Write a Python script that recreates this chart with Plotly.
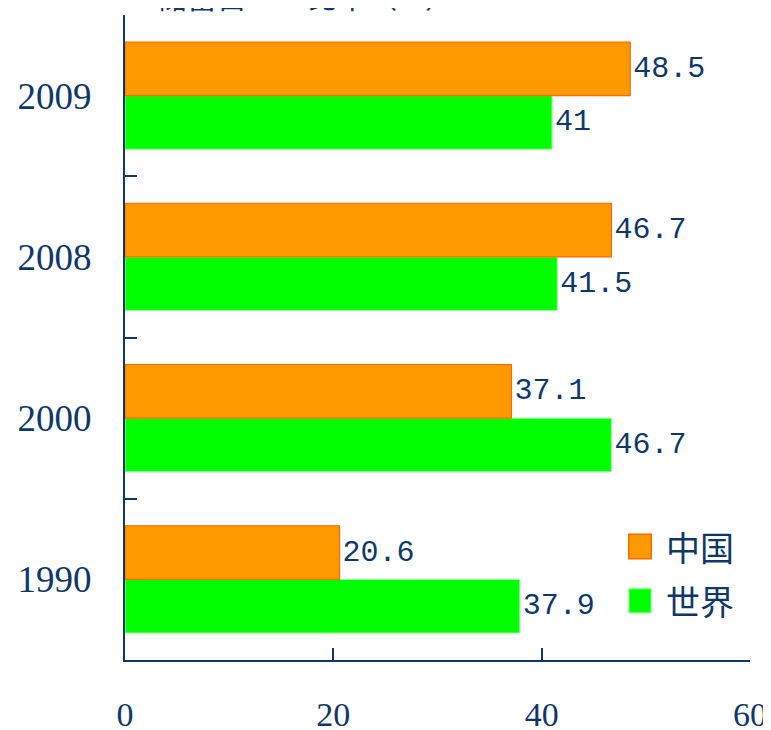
import plotly.graph_objects as go

# data
years = ["1990", "2000", "2008", "2009"]
china = [20.6, 37.1, 46.7, 48.5]
world = [37.9, 46.7, 41.5, 41.0]
x_ticks = [0, 20, 40, 60]

NAVY = "#0F3868"
ORANGE = "#FF9900"
ORANGE_EDGE = "#FF6A00"
GREEN = "#00FF00"

fig = go.Figure()

# world first so that China sits on top inside each group
fig.add_trace(go.Bar(
    y=years, x=world, name="世界", orientation="h",
    marker=dict(color=GREEN, line=dict(color="#9BFF9B", width=1)),
    texttemplate="%{x}", textposition="outside",
    textfont=dict(family="Liberation Mono", size=30, color=NAVY),
    cliponaxis=False, showlegend=False,
))
fig.add_trace(go.Bar(
    y=years, x=china, name="中国", orientation="h",
    marker=dict(color=ORANGE, line=dict(color=ORANGE_EDGE, width=1.2)),
    texttemplate="%{x}", textposition="outside",
    textfont=dict(family="Liberation Mono", size=30, color=NAVY),
    cliponaxis=False, showlegend=False,
))

# the page body adds an 8px margin, so the figure is 8px smaller than the window
fig.update_layout(
    width=763, height=722,
    paper_bgcolor="white", plot_bgcolor="white",
    margin=dict(l=117, r=21, t=7, b=70),
    barmode="group", bargap=0.335, bargroupgap=0,
    xaxis=dict(
        range=[0, 60], tickvals=x_ticks, showgrid=False, zeroline=False,
        showline=True, linecolor=NAVY, linewidth=2,
        ticks="inside", ticklen=12, tickcolor=NAVY, tickwidth=1.5,
        tickfont=dict(family="Liberation Serif", size=34, color=NAVY),
        ticklabelstandoff=23, ticklabeloverflow="allow", automargin=False,
    ),
    yaxis=dict(
        type="category", showgrid=False, zeroline=False,
        showline=True, linecolor=NAVY, linewidth=2,
        ticks="inside", tickson="boundaries", ticklen=12, tickcolor=NAVY, tickwidth=1.5,
        tickfont=dict(family="Liberation Serif", size=37, color=NAVY),
        ticklabelstandoff=24, automargin=False,
    ),
    font=dict(family="Noto Sans CJK SC", color=NAVY),
)

# chart title, mostly cut off by the top edge like the source image
fig.add_annotation(
    text="储蓄占GDP比率（%）", xref="paper", yref="paper",
    x=0.29, y=1.031, xanchor="center", yanchor="middle", showarrow=False,
    font=dict(family="Noto Sans CJK SC", size=30, color=NAVY),
)

# hand-drawn legend with large square swatches
legend_items = [("中国", ORANGE, ORANGE_EDGE, 0.176), ("世界", GREEN, "#9BFF9B", 0.092)]
for label, fill, edge, ypos in legend_items:
    fig.add_shape(
        type="rect", xref="paper", yref="paper",
        x0=0.806, x1=0.842, y0=ypos - 0.019, y1=ypos + 0.019,
        fillcolor=fill, line=dict(color=edge, width=1.5),
    )
    fig.add_annotation(
        text=label, xref="paper", yref="paper", x=0.862, y=ypos,
        xanchor="left", yanchor="middle", showarrow=False,
        font=dict(family="Noto Sans CJK SC", size=34, color=NAVY),
    )

fig.write_html("out.html")
